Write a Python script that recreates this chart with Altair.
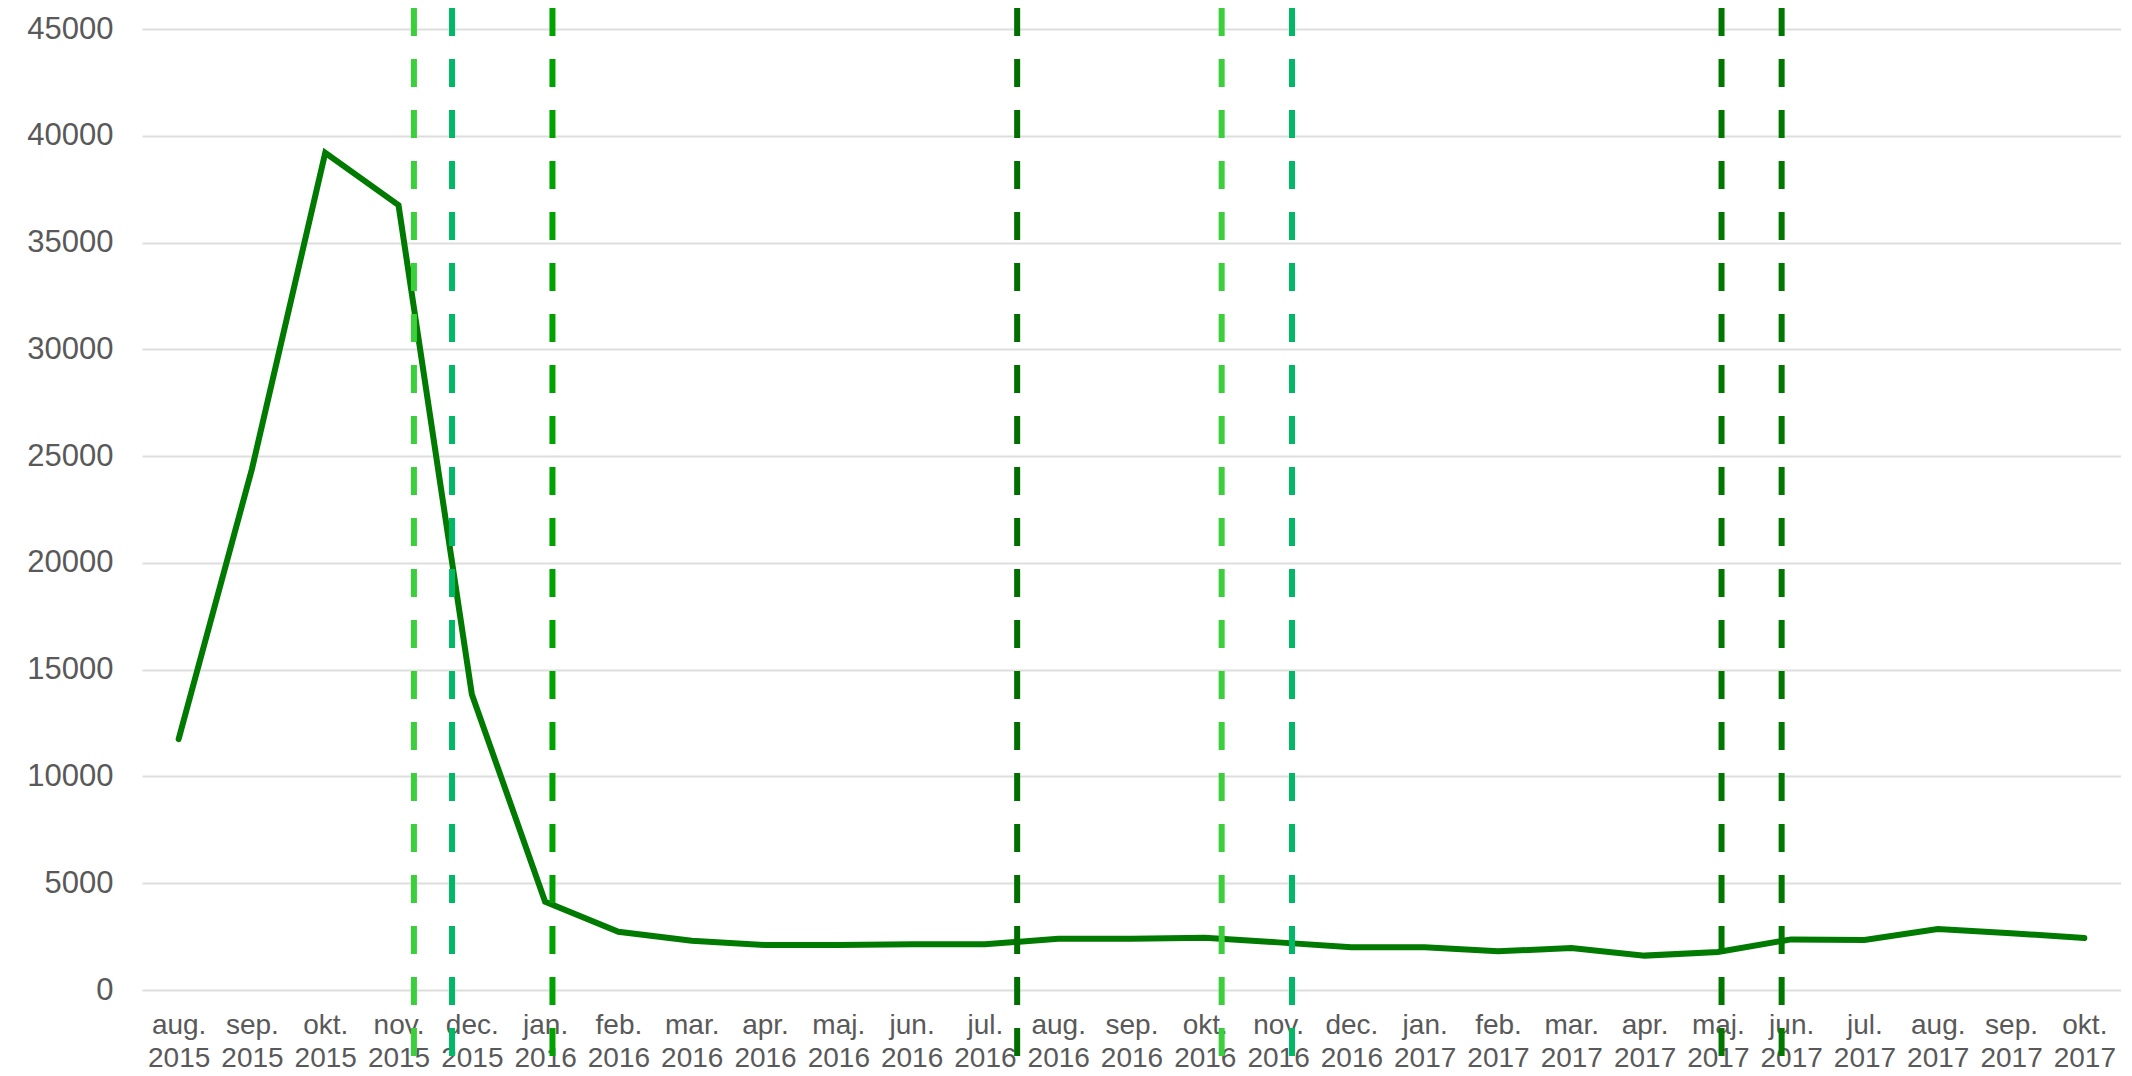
import altair as alt
import pandas as pd

# Monthly values (Aug 2015 .. Oct 2017)
months = ["aug.", "sep.", "okt.", "nov.", "dec.", "jan.", "feb.", "mar.", "apr.", "maj.",
          "jun.", "jul.", "aug.", "sep.", "okt.", "nov.", "dec.", "jan.", "feb.", "mar.",
          "apr.", "maj.", "jun.", "jul.", "aug.", "sep.", "okt."]
years = ["2015"] * 5 + ["2016"] * 12 + ["2017"] * 10
values = [11750, 24400, 39200, 36750, 13850, 4134, 2730, 2310, 2105, 2105,
          2140, 2140, 2400, 2400, 2450, 2230, 2000, 2000, 1810, 1970,
          1610, 1780, 2370, 2340, 2860, 2660, 2430]

# Event markers (position in month index units, fractional = within month)
event_pos = [3.21, 3.73, 5.10, 11.44, 14.23, 15.19, 21.05, 21.87]
event_colors = ["#3bcf3b", "#00b865", "#00a200", "#006f00",
                "#3bcf3b", "#00b865", "#007800", "#007800"]

y_ticks = list(range(0, 45001, 5000))

idx = list(range(len(values)))
df = pd.DataFrame({"i": idx, "value": values})
ev = pd.DataFrame({"pos": event_pos, "color": event_colors})

label_arr = "[" + ",".join(
    "['%s','%s']" % (m, y) for m, y in zip(months, years)) + "]"

W = 1979
H = 961
BOTTOM = 84

xscale = alt.Scale(domain=[-0.5, 26.5], nice=False, zero=False)

x_axis = alt.Axis(
    values=idx,
    labelExpr=label_arr + "[datum.value]",
    title=None,
    grid=False,
    domain=False,
    ticks=False,
    labelFontSize=28,
    labelFont="Liberation Sans",
    labelColor="#595959",
    labelLineHeight=33,
    labelPadding=21,
    labelAngle=0,
    labelOverlap=False,
    labelFlush=False,
)

y_axis = alt.Axis(
    values=y_ticks,
    format="d",
    title=None,
    domain=False,
    ticks=False,
    grid=True,
    gridColor="#dedede",
    gridWidth=2,
    labelFontSize=31,
    labelFont="Liberation Sans",
    labelColor="#595959",
    labelPadding=29,
)

line = alt.Chart(df).mark_line(
    color="#007a00", strokeWidth=6, strokeJoin="miter", strokeCap="round"
).encode(
    x=alt.X("i:Q", scale=xscale, axis=x_axis),
    y=alt.Y("value:Q", scale=alt.Scale(domain=[0, 45000], nice=False), axis=y_axis),
)

rules = alt.Chart(ev).mark_rule(strokeWidth=6, strokeDash=[28, 23]).encode(
    x=alt.X("pos:Q", scale=xscale),
    y=alt.value(-21),
    y2=alt.value(H + BOTTOM),
    color=alt.Color("color:N", scale=None),
)

chart = alt.layer(line, rules).properties(
    width=W,
    height=H,
    background="white",
    autosize=alt.AutoSizeParams(type="none"),
    padding={"left": 134, "top": 21, "right": 0, "bottom": BOTTOM},
).configure_view(stroke=None)

chart.save("out.html", embed_options={"renderer": "svg", "actions": False})
